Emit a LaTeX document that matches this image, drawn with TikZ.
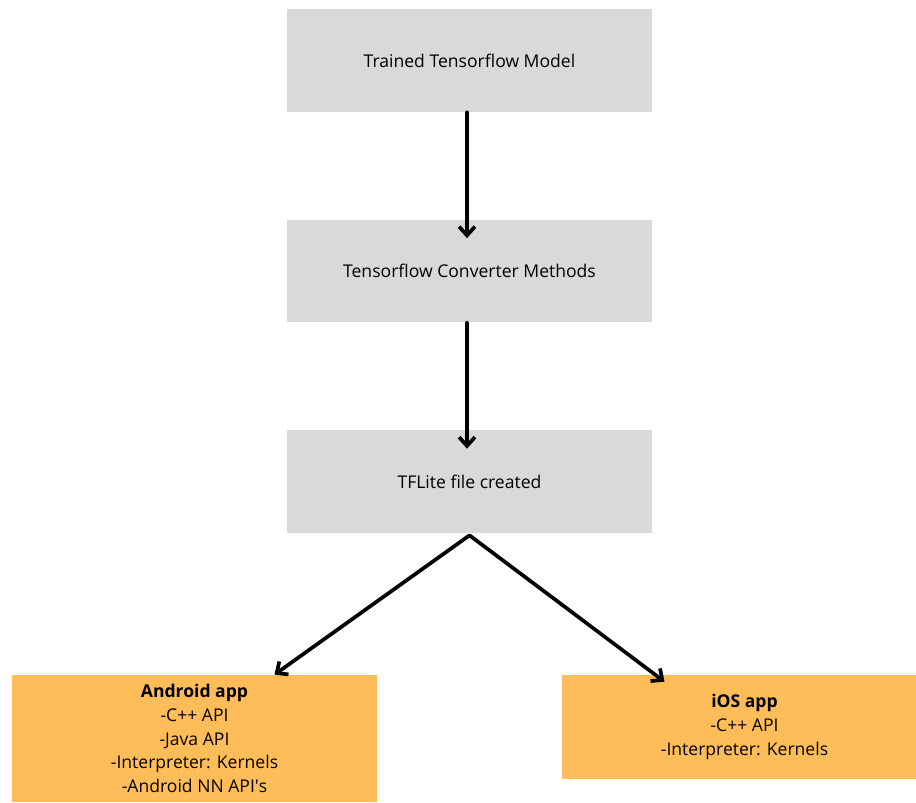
\documentclass[tikz,border=0pt]{standalone}
\usepackage{fontspec}
\setmainfont{Open Sans}
\usetikzlibrary{arrows.meta, positioning, calc}
\definecolor{grisCaja}{RGB}{217, 217, 217}
\definecolor{naranjaApp}{RGB}{255, 189, 89}

\begin{document}
\begin{tikzpicture}[x=0.02cm, y=-0.02cm,
    paso/.style={fill=grisCaja, minimum width=7.3cm, minimum height=2.06cm,
        inner sep=0pt, font=\fontsize{10}{13.6}\selectfont},
    app/.style={fill=naranjaApp, minimum width=7.3cm, inner sep=0pt, align=center,
        font=\fontsize{10}{13.6}\selectfont},
    flecha/.style={-{Straight Barb[length=5pt, width=9pt, line width=2.1pt]},
        line width=2.1pt, line cap=round}]
    \useasboundingbox (0,0) rectangle (916,803);

    % Pasos de conversion
    \node[paso] (modelo) at (469.5,60.5) {Trained Tensorflow Model};
    \node[paso] (conversor) at (469.5,271) {Tensorflow Converter Methods};
    \node[paso] (tflite) at (469.5,481.5) {TFLite file created};

    % Aplicaciones
    \node[app, minimum height=2.54cm] (android) at (194.5,738.5)
        {\textbf{Android app}\\-C++ API\\-Java API\\-Interpreter: Kernels\\-Android NN API\textquotesingle s};
    \node[app, minimum height=2.08cm] (ios) at (744.5,727)
        {\textbf{iOS app}\\-C++ API\\-Interpreter: Kernels};

    \draw[flecha, shorten >=-0.38cm] ([xshift=-0.05cm]modelo.south) -- ([xshift=-0.05cm]conversor.north);
    \draw[flecha, shorten >=-0.38cm] ([xshift=-0.05cm]conversor.south) -- ([xshift=-0.05cm]tflite.north);
    \draw[flecha] ([yshift=-0.04cm]tflite.south) -- ([xshift=1.6cm]android.north);
    \draw[flecha] ([yshift=-0.04cm]tflite.south) -- ([xshift=-1.6cm, yshift=-0.14cm]ios.north);
\end{tikzpicture}
\end{document}
